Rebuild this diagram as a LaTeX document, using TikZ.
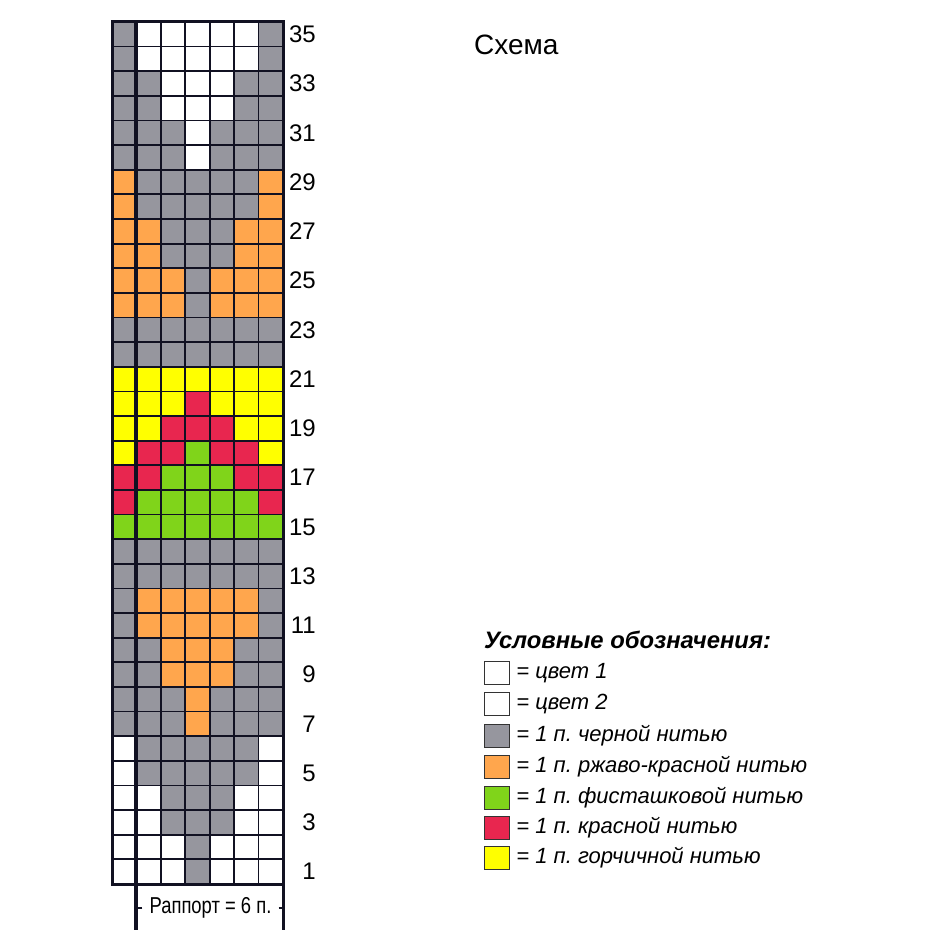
\documentclass[tikz,border=0pt]{standalone}
\usepackage{fontspec}
\setmainfont{Liberation Sans}
\newfontfamily\narrowfont[FakeStretch=0.8]{Liberation Sans}
\usetikzlibrary{positioning}
\frenchspacing

\definecolor{cw}{HTML}{FFFFFF}
\definecolor{cg}{HTML}{96969E}
\definecolor{co}{HTML}{FFA64D}
\definecolor{cy}{HTML}{FFFF00}
\definecolor{cr}{HTML}{E8264F}
\definecolor{cl}{HTML}{80D41A}
\definecolor{ink}{HTML}{111122}

\begin{document}
\begin{tikzpicture}[x=1pt, y=-1pt,
    gridline/.style={draw=ink, line width=1.8pt},
    rownum/.style={anchor=east, inner sep=0pt, font=\fontsize{24}{24}\selectfont},
    key/.style={draw=black!80, line width=1.4pt, minimum width=25pt, minimum height=23pt, inner sep=0pt},
    keytext/.style={inner sep=0pt, font=\itshape\fontsize{22}{22}\selectfont}
]
\useasboundingbox (0,0) rectangle (950,950);

% Corners
\coordinate (gridNW) at (112,22);
\coordinate (gridSE) at (283,884);
\coordinate (repL) at (136.43,930);
\coordinate (repR) at (283,930);

% Cells (row / colours from left)
\foreach \n/\cols in {
    1/{w,w,w,g,w,w,w}, 2/{w,w,w,g,w,w,w}, 3/{w,w,g,g,g,w,w}, 4/{w,w,g,g,g,w,w},
    5/{w,g,g,g,g,g,w}, 6/{w,g,g,g,g,g,w}, 7/{g,g,g,o,g,g,g}, 8/{g,g,g,o,g,g,g},
    9/{g,g,o,o,o,g,g}, 10/{g,g,o,o,o,g,g}, 11/{g,o,o,o,o,o,g}, 12/{g,o,o,o,o,o,g},
    13/{g,g,g,g,g,g,g}, 14/{g,g,g,g,g,g,g}, 15/{l,l,l,l,l,l,l}, 16/{r,l,l,l,l,l,r},
    17/{r,r,l,l,l,r,r}, 18/{y,r,r,l,r,r,y}, 19/{y,y,r,r,r,y,y}, 20/{y,y,y,r,y,y,y},
    21/{y,y,y,y,y,y,y}, 22/{g,g,g,g,g,g,g}, 23/{g,g,g,g,g,g,g}, 24/{o,o,o,g,o,o,o},
    25/{o,o,o,g,o,o,o}, 26/{o,o,g,g,g,o,o}, 27/{o,o,g,g,g,o,o}, 28/{o,g,g,g,g,g,o},
    29/{o,g,g,g,g,g,o}, 30/{g,g,g,w,g,g,g}, 31/{g,g,g,w,g,g,g}, 32/{g,g,w,w,w,g,g},
    33/{g,g,w,w,w,g,g}, 34/{g,w,w,w,w,w,g}, 35/{g,w,w,w,w,w,g}} {
  \foreach \c [count=\i] in \cols
    \fill[c\c] ({112+(\i-1)*24.43},{884-\n*24.63}) rectangle ++(24.43,24.63);
}

% Grid
\foreach \i in {2,...,6}
  \draw[gridline] ({112+\i*24.43},22) -- ({112+\i*24.43},884);
\foreach \n in {1,...,34}
  \draw[gridline] (112,{884-\n*24.63}) -- (283,{884-\n*24.63});
\draw[draw=ink, line width=3pt] (gridNW) rectangle (gridSE);
\draw[draw=ink, line width=4pt] (136.43,22) -- (repL);
\draw[draw=ink, line width=3pt] (gridSE) -- (repR);

% Row numbers
\foreach \n in {1,3,...,35}
  \node[rownum] (num\n) at (316,{884-(\n-0.5)*24.63}) {\n};

% Rapport
\node[inner xsep=7pt, inner ysep=0pt, font=\narrowfont\fontsize{23}{23}\selectfont] (rap) at (210.5,908) {Раппорт = 6 п.};
\draw[draw=ink, line width=1.5pt] (rap.west) -- (rap.west -| repL);
\draw[draw=ink, line width=1.5pt] (rap.east) -- (rap.east -| repR);

% Title
\node[anchor=west, inner sep=0pt, font=\fontsize{28}{28}\selectfont] (title) at (474,45) {Схема};

% Legend
\node[anchor=west, inner sep=0pt, font=\bfseries\itshape\fontsize{23.8}{24}\selectfont] (legend) at (484,640) {Условные обозначения:};
\foreach \yy/\col/\txt [count=\k] in {
    673/cw/= цвет 1, 704/cw/= цвет 2, 736/cg/= 1 п. черной нитью,
    767/co/= 1 п. ржаво-красной нитью, 798/cl/= 1 п. фисташковой нитью,
    828/cr/= 1 п. красной нитью, 858/cy/= 1 п. горчичной нитью} {
  \node[key, fill=\col] (key\k) at (497,\yy) {};
  \node[keytext, right=6pt of key\k] (keytext\k) {\txt};
}

\end{tikzpicture}
\end{document}
